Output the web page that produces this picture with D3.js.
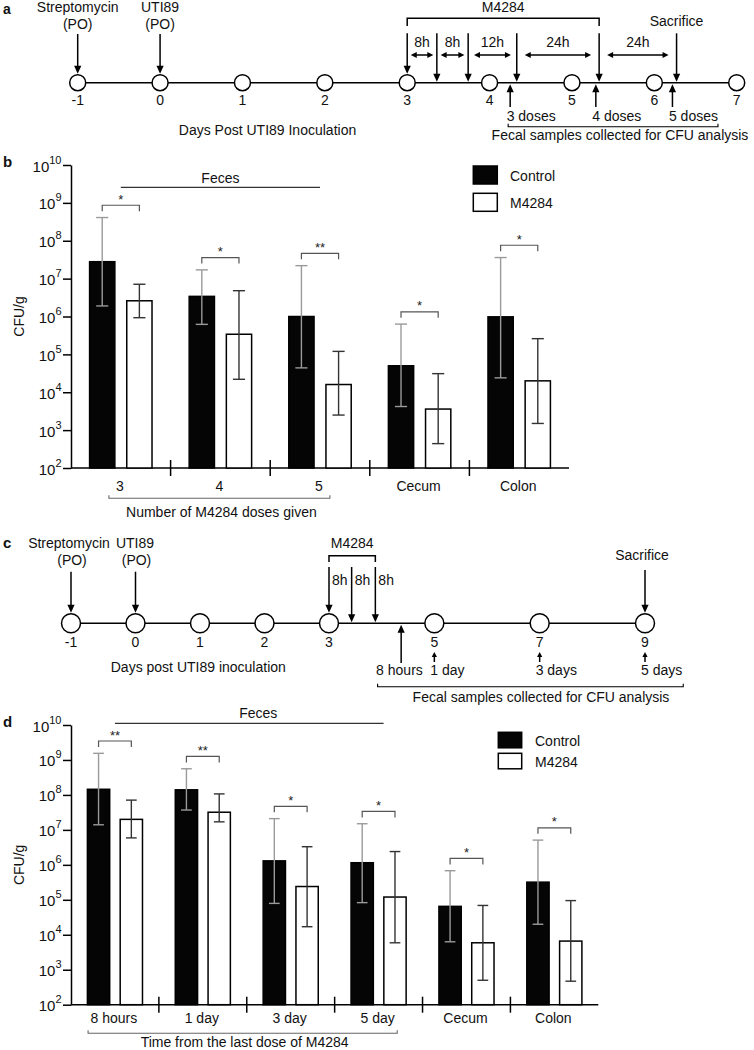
<!DOCTYPE html>
<html><head><meta charset="utf-8">
<script src="https://cdn.jsdelivr.net/npm/d3@7"></script>
<style>
body{margin:0;background:#fff;}
svg{display:block;font-family:"Liberation Sans",Arial,Helvetica,sans-serif;}
</style></head><body>
<svg id="fig" width="754" height="1050"></svg>
<script>
// ---------------- DATA ----------------
const seriesNames = ["Control", "M4284"];
const tickValues = [1e2, 1e3, 1e4, 1e5, 1e6, 1e7, 1e8, 1e9, 1e10];

// Panel b
const groupsB   = ["3", "4", "5", "Cecum", "Colon"];
const controlB   = [2.8e7, 3.4e6, 1.0e6, 5.0e4, 9.8e5];
const controlBHi = [4.1e8, 1.7e7, 2.2e7, 6.3e5, 3.6e7];
const controlBLo = [1.9e6, 6.2e5, 4.4e4, 4.2e3, 2.4e4];
const m4284B     = [2.6e6, 3.4e5, 1.6e4, 3.6e3, 2.0e4];
const m4284BHi   = [7.1e6, 4.8e6, 1.2e5, 3.1e4, 2.6e5];
const m4284BLo   = [9.3e5, 2.2e4, 2.5e3, 4.4e2, 1.5e3];
const sigB       = ["*", "*", "**", "*", "*"];

// Panel d
const groupsD   = ["8 hours", "1 day", "3 day", "5 day", "Cecum", "Colon"];
const controlD   = [1.45e8, 1.4e8, 1.3e6, 1.15e6, 6.5e4, 3.2e5];
const controlDHi = [1.55e9, 5.6e8, 2.1e7, 1.5e7, 6.8e5, 5.1e6];
const controlDLo = [1.4e7, 3.7e7, 7.9e4, 8.3e4, 6.3e3, 2.0e4];
const m4284D     = [2.0e7, 3.2e7, 2.4e5, 1.2e5, 5.9e3, 6.6e3];
const m4284DHi   = [7.1e7, 1.07e8, 3.3e6, 2.4e6, 6.9e4, 9.5e4];
const m4284DLo   = [5.9e6, 1.7e7, 1.7e4, 5.9e3, 5.0e2, 4.7e2];
const sigD       = ["**", "**", "*", "*", "*", "*"];

// Panel a timeline (days)
const daysA = [-1, 0, 1, 2, 3, 4, 5, 6, 7];
const dosesA = [3, 3.36, 3.74, 4.33, 5.33];
const intervalLabelsA = ["8h", "8h", "12h", "24h", "24h"];
const sacrificeA = 6.27;
const samplesA = [4.25, 5.29, 6.22];
const sampleLabelsA = ["3 doses", "4 doses", "5 doses"];

// Panel c timeline (days)
const daysC = [-1, 0, 1, 2, 3, 5, 7, 9];
const dosesC = [3, 3.43, 3.88];
const doseLabelsC = ["8h", "8h", "8h"];
const sacrificeC = 9;
const samplesC = [4.37, 5, 7, 9];
const sampleLabelsC = ["8 hours", "1 day", "3 days", "5 days"];

// ---------------- HELPERS ----------------
const svg = d3.select("#fig");
const FS = 14;

function txt(g, x, y, s, opts = {}) {
  const t = g.append("text").attr("x", x).attr("y", y).text(s)
    .attr("font-size", opts.size || FS)
    .attr("text-anchor", opts.anchor || "middle")
    .attr("fill", opts.fill || "#111");
  if (opts.weight) t.attr("font-weight", opts.weight);
  return t;
}
function line(g, x1, y1, x2, y2, color = "#000", w = 1.5) {
  return g.append("line").attr("x1", x1).attr("y1", y1).attr("x2", x2).attr("y2", y2)
    .attr("stroke", color).attr("stroke-width", w);
}
function vArrow(g, x, yStart, yTip, hl = 8, hw = 3.6) {
  const dir = Math.sign(yTip - yStart);
  line(g, x, yStart, x, yTip - dir * hl * 0.7);
  g.append("path").attr("d", `M${x},${yTip}L${x - hw},${yTip - dir * hl}L${x + hw},${yTip - dir * hl}Z`).attr("fill", "#000");
}
function hDoubleArrow(g, x1, x2, y, hl = 6, hw = 3) {
  line(g, x1 + hl * 0.7, y, x2 - hl * 0.7, y);
  g.append("path").attr("d", `M${x1},${y}L${x1 + hl},${y - hw}L${x1 + hl},${y + hw}Z`).attr("fill", "#000");
  g.append("path").attr("d", `M${x2},${y}L${x2 - hl},${y - hw}L${x2 - hl},${y + hw}Z`).attr("fill", "#000");
}
function underBracket(g, x1, x2, y, color = "#555") {
  g.append("path").attr("d", `M${x1},${y - 3}V${y}H${x2}V${y - 3}`)
    .attr("fill", "none").attr("stroke", color).attr("stroke-width", 1.1);
}

// ---------------- PANEL A ----------------
(function () {
  const g = svg.append("g");
  const x = d3.scaleLinear().domain([-1, 7]).range([77.7, 736.7]);
  const ay = 82.7, r = 8;
  txt(g, 3, 13.5, "a", { anchor: "start", size: 14, weight: "bold" });
  line(g, x(daysA[0]), ay, x(daysA[daysA.length - 1]), ay);
  g.selectAll("circle.day").data(daysA).join("circle").attr("class", "day")
    .attr("cx", d => x(d)).attr("cy", ay).attr("r", r)
    .attr("fill", "#fff").attr("stroke", "#000").attr("stroke-width", 1.5);
  daysA.forEach(d => txt(g, x(d), 105, String(d)));
  txt(g, 267.5, 135, "Days Post UTI89 Inoculation");

  // Streptomycin & UTI89
  [[-1, "Streptomycin"], [0, "UTI89"]].forEach(([d, s]) => {
    txt(g, x(d), 12, s);
    txt(g, x(d), 29, "(PO)");
    vArrow(g, x(d), 34, ay - r - 1);
  });

  // M4284 bracket
  const xd0 = x(dosesA[0]), xd1 = x(dosesA[dosesA.length - 1]);
  txt(g, (xd0 + xd1) / 2, 12, "M4284");
  g.append("path").attr("d", `M${xd0},26V18.3H${xd1}V26`).attr("fill", "none").attr("stroke", "#000").attr("stroke-width", 1.5);
  dosesA.forEach((d, i) => vArrow(g, x(d), 33.3, i === 0 ? ay - r - 1 : ay - 1));

  // Sacrifice
  txt(g, x(sacrificeA), 26, "Sacrifice");
  vArrow(g, x(sacrificeA), 33.3, ay - 1);

  // interval double arrows
  const events = dosesA.concat([sacrificeA]);
  intervalLabelsA.forEach((lab, i) => {
    const a = x(events[i]), b = x(events[i + 1]);
    const inset = Math.min(8, (b - a) * 0.12);
    hDoubleArrow(g, a + inset, b - inset, 55);
    txt(g, (a + b) / 2, 46.7, lab);
  });

  // sample arrows
  let lefts = [], rights = [];
  samplesA.forEach((d, i) => {
    vArrow(g, x(d), 107, ay + 1.5);
    const t = txt(g, x(d) + 21, 120.7, sampleLabelsA[i]);
    const w = t.node().getComputedTextLength();
    lefts.push(x(d) + 21 - w / 2); rights.push(x(d) + 21 + w / 2);
  });
  underBracket(g, lefts[0] + 1.5, rights[rights.length - 1], 126.7, "#000");
  txt(g, 620, 140, "Fecal samples collected for CFU analysis");
})();

// ---------------- PANEL C ----------------
(function () {
  const g = svg.append("g");
  const x = d3.scaleLinear().domain([-1, 3, 9]).range([71, 329, 645]);
  const ay = 623.3, r = 9.5;
  txt(g, 3, 548.3, "c", { anchor: "start", size: 15, weight: "bold" });
  line(g, x(daysC[0]), ay, x(daysC[daysC.length - 1]), ay);
  g.selectAll("circle.day").data(daysC).join("circle").attr("class", "day")
    .attr("cx", d => x(d)).attr("cy", ay).attr("r", r)
    .attr("fill", "#fff").attr("stroke", "#000").attr("stroke-width", 1.5);
  daysC.forEach(d => txt(g, x(d), 647.3, String(d)));
  txt(g, 198.3, 671.7, "Days post UTI89 inoculation");

  [[-1, "Streptomycin", -2], [0, "UTI89", -0.5]].forEach(([d, s, off]) => {
    txt(g, x(d) + off, 548.3, s);
    txt(g, x(d) + 1, 565, "(PO)");
    vArrow(g, x(d), 571.7, ay - r - 1);
  });

  const xd0 = x(dosesC[0]), xd1 = x(dosesC[dosesC.length - 1]);
  txt(g, (xd0 + xd1) / 2, 548.3, "M4284");
  g.append("path").attr("d", `M${xd0},562V555.7H${xd1}V562`).attr("fill", "none").attr("stroke", "#000").attr("stroke-width", 1.5);
  dosesC.forEach((d, i) => {
    vArrow(g, x(d), 567, i === 0 ? ay - r - 1 : ay - 1);
    txt(g, x(d) + 3, 585, doseLabelsC[i], { anchor: "start" });
  });

  txt(g, x(sacrificeC) - 3, 560, "Sacrifice");
  vArrow(g, x(sacrificeC), 570, ay - r - 1);

  let left = 0, right = 0;
  samplesC.forEach((d, i) => {
    let t;
    if (i === 0) {
      vArrow(g, x(d), 663, ay + 1.5);
      t = txt(g, x(d) - 1.7, 675, sampleLabelsC[i]);
      left = x(d) - 1.7 - t.node().getComputedTextLength() / 2;
    } else {
      vArrow(g, x(d), 662, 652, 5, 2.6);
      t = txt(g, x(d) - 4, 675, sampleLabelsC[i], { anchor: "start" });
      right = x(d) - 4 + t.node().getComputedTextLength();
    }
  });
  underBracket(g, left + 1.5, right + 1, 686.7, "#000");
  txt(g, 541, 701.7, "Fecal samples collected for CFU analysis");
})();

// ---------------- BAR CHARTS ----------------
function barChart(c) {
  const g = svg.append("g");
  const y = d3.scaleLog().domain([1e2, 1e10]).range([c.yBot, c.yTop]);
  const x = d3.scaleBand().domain(c.groups).range([c.x0, c.x1]).padding(0);
  const xs = d3.scaleBand().domain(seriesNames).range([0, x.bandwidth()]).paddingInner(0.32).paddingOuter(0.5);
  const bw = xs.bandwidth();
  const capW = bw * 0.48;

  txt(g, 3, c.letterY, c.letter, { anchor: "start", size: 15, weight: "bold" });

  // y axis
  const ya = g.append("g").attr("transform", `translate(${c.x0},0)`)
    .call(d3.axisLeft(y).tickValues(tickValues).tickSize(8).tickSizeOuter(0).tickFormat(() => ""));
  ya.selectAll("path,line").attr("stroke", "#000").attr("stroke-width", 1.5);
  tickValues.forEach(v => {
    const e = Math.round(Math.log10(v));
    const t = g.append("text").attr("x", c.x0 - 9.5).attr("y", y(v) + 6.5)
      .attr("text-anchor", "end").attr("fill", "#111").attr("font-size", 15);
    t.append("tspan").text("10");
    t.append("tspan").attr("dy", -8).attr("font-size", 11).text(String(e));
  });
  g.append("text").attr("transform", `translate(24,${(c.yTop + c.yBot) / 2}) rotate(-90)`)
    .attr("text-anchor", "middle").attr("font-size", FS).attr("fill", "#111").text("CFU/g");

  // x axis line and group separators
  line(g, c.x0, c.yBot, c.x1, c.yBot);
  c.groups.slice(1).forEach(gr => line(g, x(gr), c.yBot - 8, x(gr), c.yBot + 8));

  // bars
  const rows = c.groups.map((gr, i) => ({
    gr, i,
    vals: [
      { s: "Control", v: c.ctrl[i], hi: c.ctrlHi[i], lo: c.ctrlLo[i] },
      { s: "M4284", v: c.m[i], hi: c.mHi[i], lo: c.mLo[i] }
    ]
  }));
  const gg = g.selectAll("g.grp").data(rows).join("g").attr("class", "grp")
    .attr("transform", d => `translate(${x(d.gr)},0)`);
  gg.selectAll("rect").data(d => d.vals).join("rect")
    .attr("x", d => xs(d.s)).attr("width", bw)
    .attr("y", d => y(d.v)).attr("height", d => c.yBot - y(d.v))
    .attr("fill", d => d.s === "Control" ? "#050505" : "#fff")
    .attr("stroke", "#000").attr("stroke-width", 1.5);
  // error bars
  gg.each(function (d) {
    const sel = d3.select(this);
    d.vals.forEach(v => {
      const cx = xs(v.s) + bw / 2;
      const col = v.s === "Control" ? "#9a9a9a" : "#333";
      line(sel, cx, y(v.hi), cx, y(v.lo), col, 1.4);
      line(sel, cx - capW / 2, y(v.hi), cx + capW / 2, y(v.hi), col, 1.4);
      line(sel, cx - capW / 2, y(v.lo), cx + capW / 2, y(v.lo), col, 1.4);
    });
    // significance bracket
    const c1 = xs("Control") + bw / 2, c2 = xs("M4284") + bw / 2;
    const by = y(Math.max(d.vals[0].hi, d.vals[1].hi)) - 12.3;
    sel.append("path").attr("d", `M${c1},${by + 6}V${by}H${c2}V${by + 6}`)
      .attr("fill", "none").attr("stroke", "#555").attr("stroke-width", 1.2);
    txt(sel, (c1 + c2) / 2, by - 1.5, c.sig[d.i], { size: 13, fill: "#222" });
  });

  // category labels
  const labs = [];
  c.groups.forEach((gr, i) => {
    const t = txt(g, x(gr) + x.bandwidth() / 2 - 1, c.catLabelY, gr);
    labs.push({ cx: x(gr) + x.bandwidth() / 2 - 1, w: t.node().getComputedTextLength() });
  });
  const bl = labs[0].cx - labs[0].w / 2 - c.bracketPad;
  const lb = labs[c.bracketGroups - 1];
  const br = lb.cx + lb.w / 2 + c.bracketPad;
  underBracket(g, bl, br, c.bracketY, "#666");
  txt(g, (bl + br) / 2 + 2, c.titleY, c.title);

  // Feces line
  const f1 = x(c.groups[0]) + x.bandwidth() / 2;
  const f2 = x(c.groups[c.fecesGroups - 1]) + x.bandwidth() / 2 + c.fecesExtra;
  line(g, f1, c.fecesY, f2, c.fecesY, "#333", 1.2);
  txt(g, (f1 + f2) / 2 + c.fecesTextDx, c.fecesTextY, "Feces");

  // legend
  seriesNames.forEach((s, i) => {
    const ly = c.legendY + i * c.legendGap;
    g.append("rect").attr("x", c.legendX).attr("y", ly).attr("width", c.legendW).attr("height", c.legendH)
      .attr("fill", i === 0 ? "#050505" : "#fff").attr("stroke", "#000").attr("stroke-width", 1.5);
    txt(g, c.legendTextX, ly + c.legendH / 2 + 5.5, s, { anchor: "start" });
  });
}

barChart({
  groups: groupsB, ctrl: controlB, ctrlHi: controlBHi, ctrlLo: controlBLo,
  m: m4284B, mHi: m4284BHi, mLo: m4284BLo, sig: sigB,
  x0: 71, x1: 569, yTop: 165, yBot: 468,
  letter: "b", letterY: 166.7,
  fecesGroups: 3, fecesExtra: 0, fecesY: 187.3, fecesTextY: 183.3, fecesTextDx: 0,
  catLabelY: 490.7, bracketY: 498.3, bracketPad: 7, titleY: 516.7,
  title: "Number of M4284 doses given", bracketGroups: 3,
  legendX: 473.3, legendY: 166, legendH: 18, legendW: 24, legendGap: 27.3, legendTextX: 510
});

barChart({
  groups: groupsD, ctrl: controlD, ctrlHi: controlDHi, ctrlLo: controlDLo,
  m: m4284D, mHi: m4284DHi, mLo: m4284DLo, sig: sigD,
  x0: 71, x1: 598.3, yTop: 725, yBot: 1004.7,
  letter: "d", letterY: 726.7,
  fecesGroups: 4, fecesExtra: 5, fecesY: 723.3, fecesTextY: 718.3, fecesTextDx: 9,
  catLabelY: 1023.3, bracketY: 1033.3, bracketPad: 2.5, titleY: 1046.7,
  title: "Time from the last dose of M4284", bracketGroups: 4,
  legendX: 498.3, legendY: 732.3, legendH: 15.5, legendW: 23.4, legendGap: 21, legendTextX: 535
});
</script>
</body></html>
